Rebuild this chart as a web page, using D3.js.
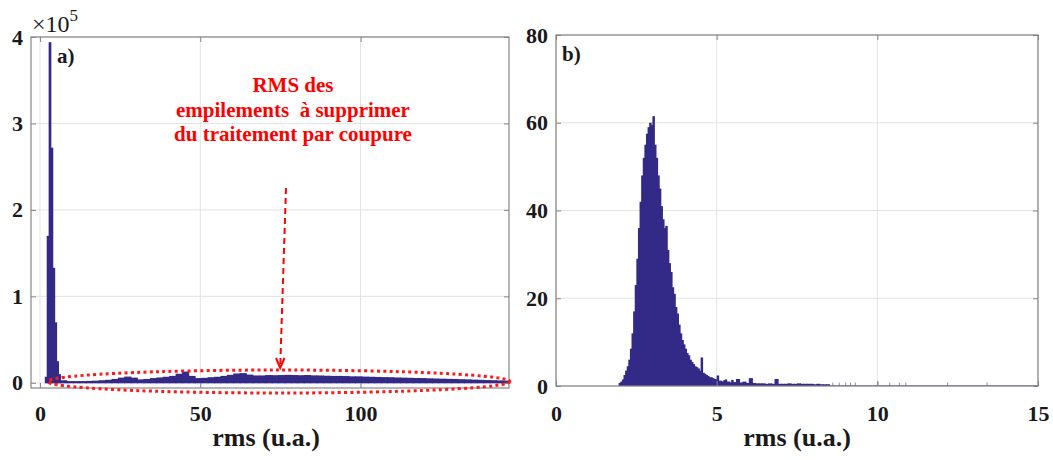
<!DOCTYPE html>
<html><head><meta charset="utf-8">
<script src="https://cdn.jsdelivr.net/npm/d3@7"></script>
<style>
body{margin:0;background:#fff;}
svg{display:block;font-family:"Liberation Serif","Times New Roman",serif;}
</style></head><body>
<svg id="c" width="1053" height="460"></svg>
<script>
// ---------- DATA ----------
// Panel a: counts (x1e5). Peak bins (width 0.6 from 1.5), tail bins (width 2 from 6.3)
const aPeakStart = 1.5, aPeakWidth = 0.6;
const aPeakValues = [0.07, 1.70, 3.94, 2.72, 1.33, 0.70, 0.25, 0.10];
const aTailStart = 6.3, aTailWidth = 2;
const aTailValues = [0.03,0.02,0.02,0.02,0.022,0.025,0.03,0.035,0.045,0.06,
  0.072,0.06,0.04,0.045,0.055,0.062,0.07,0.08,0.105,0.13,
  0.08,0.055,0.058,0.065,0.07,0.08,0.092,0.108,0.112,0.095,
  0.085,0.085,0.09,0.088,0.09,0.092,0.09,0.088,0.09,0.086,
  0.085,0.082,0.08,0.08,0.078,0.075,0.075,0.072,0.07,0.068,
  0.066,0.065,0.062,0.06,0.058,0.056,0.055,0.052,0.05,0.048,
  0.046,0.045,0.042,0.04,0.037,0.035,0.032,0.03,0.028,0.026];
const aXTicks = [0, 50, 100];
const aYTicks = [0, 1, 2, 3, 4];

// Panel b: counts, main bins (width 0.05 from 1.95), tail bins (width 0.1 from 5.5), lone bars
const bMainStart = 1.95, bMainWidth = 0.05;
const bMainValues = [0.7,1,1.5,2.5,3.5,4.5,6,8.5,12,17,
  23,29,36,42,48,52,55,57.5,59,60,
  59.5,61.5,55,52,48,45,41,38,36,36.5,
  31,28,26,22.5,21,18,16.5,14,12,10.5,
  9.5,8.5,7.5,7,6,5.5,5,4.5,4.3,4,
  3.5,6.5,3,2.8,2.5,2.3,2,2,1.8,1.6,
  1.5,2.4,1.2,1.2,1,1.3,1.5,1,1,0.8,1.4];
const bTailStart = 5.5, bTailWidth = 0.1;
const bTailValues = [0.9,1.6,0.8,1.0,0.7,1.8,0.7,0.6,0.6,0.6,
  0.5,0.6,0.5,1.6,0.5,0.5,0.5,0.6,0.5,0.5,
  0.6,0.5,0.5,0.5,0.5,0.4,0.5,0.4,0.4,0.4];
const bLoneX = [8.6, 8.8, 9.0, 9.15, 9.3, 10.0, 10.37, 10.67, 10.87, 12.17, 13.4];
const bLoneValues = [0.8,0.8,0.8,0.8,0.8,0.9,0.8,0.8,0.8,0.8,0.8];
const bLoneWidth = 0.03;
const bXTicks = [0, 5, 10, 15];
const bYTicks = [0, 20, 40, 60, 80];

const annotationLines = ["RMS des", "empilements\u00A0 à supprimer", "du traitement par coupure"];

// ---------- DRAW ----------
const svg = d3.select("#c");
svg.append("rect").attr("width",1053).attr("height",460).attr("fill","#fff");
const barColor = "#332a87";
const gridColor = "#e3e3e3";
const boxColor = "#858585";

function panel(opt){
  const {x, y, xTicks, yTicks, yFmt} = opt;
  const [x0,x1] = x.range(), [y0,y1] = y.range();
  const g = svg.append("g");
  g.append("g").selectAll("line").data(xTicks).join("line")
    .attr("x1",d=>x(d)).attr("x2",d=>x(d)).attr("y1",y0).attr("y2",y1)
    .attr("stroke",gridColor).attr("stroke-width",1);
  g.append("g").selectAll("line").data(yTicks).join("line")
    .attr("y1",d=>y(d)).attr("y2",d=>y(d)).attr("x1",x0).attr("x2",x1)
    .attr("stroke",gridColor).attr("stroke-width",1);
  const marks = g.append("g");
  const ax = g.append("g");
  ax.append("g").attr("transform",`translate(0,${y0})`)
    .call(d3.axisBottom(x).tickValues(xTicks).tickSizeInner(-5).tickSizeOuter(0).tickPadding(opt.xPad));
  ax.append("g").attr("transform",`translate(${x0},0)`)
    .call(d3.axisLeft(y).tickValues(yTicks).tickSizeInner(-5).tickSizeOuter(0).tickPadding(8).tickFormat(yFmt));
  ax.append("g").attr("transform",`translate(0,${y1})`)
    .call(d3.axisTop(x).tickValues(xTicks).tickSizeInner(-5).tickSizeOuter(0).tickFormat(""));
  ax.append("g").attr("transform",`translate(${x1},0)`)
    .call(d3.axisRight(y).tickValues(yTicks).tickSizeInner(-5).tickSizeOuter(0).tickFormat(""));
  ax.selectAll(".domain").remove();
  ax.selectAll(".tick line").attr("stroke",boxColor);
  ax.selectAll(".tick text").attr("font-family","Liberation Serif, serif")
    .attr("font-weight","bold").attr("font-size",22).attr("fill","#1a1a1a");
  g.append("rect").attr("x",x0).attr("y",y1).attr("width",x1-x0).attr("height",y0-y1)
    .attr("fill","none").attr("stroke",boxColor).attr("stroke-width",1.2);
  g.append("text").attr("x",(x0+x1)/2 + (opt.labelShift||0)).attr("y",446)
    .attr("text-anchor","middle").attr("font-weight","bold").attr("font-size",26)
    .attr("fill","#1a1a1a").text("rms (u.a.)");
  g.append("text").attr("x",x0+opt.tagDx).attr("y",y1+26)
    .attr("font-weight","bold").attr("font-size",21).attr("fill","#1a1a1a").text(opt.tag);
  return marks;
}

// Panel a
const xa = d3.scaleLinear([-2.8, 146.3], [31, 509]);
const ya = d3.scaleLinear([-0.06, 4.0], [388, 37]);
const ma = panel({x:xa, y:ya, xTicks:aXTicks, yTicks:aYTicks, yFmt:d3.format("d"), xPad:17, tag:"a)", tagDx:26, labelShift:-4});
const aBars = aPeakValues.map((v,i)=>({x0:aPeakStart+i*aPeakWidth, x1:aPeakStart+(i+1)*aPeakWidth, v}))
  .concat(aTailValues.map((v,i)=>({x0:aTailStart+i*aTailWidth, x1:aTailStart+(i+1)*aTailWidth, v})));
ma.selectAll("rect").data(aBars).join("rect")
  .attr("x",d=>xa(d.x0)).attr("width",d=>xa(d.x1)-xa(d.x0)+0.8)
  .attr("y",d=>ya(d.v)).attr("height",d=>ya(0)-ya(d.v)+0.5)
  .attr("fill",barColor);

// x10^5
const mult = svg.append("text").attr("x",32).attr("y",32).attr("font-size",24).attr("fill","#1a1a1a");
mult.append("tspan").text("×10");
mult.append("tspan").attr("dy",-11).attr("font-size",17).text("5");

// annotation
const ann = svg.append("g").attr("fill","#ff0000").attr("font-weight","bold").attr("font-size",21).attr("text-anchor","middle");
annotationLines.forEach((t,i)=>{
  ann.append("text").attr("x",293).attr("y",92 + i*24.5).text(t);
});
svg.append("line").attr("x1",286).attr("y1",188).attr("x2",280.3).attr("y2",364)
  .attr("stroke","#ff0000").attr("stroke-width",2).attr("stroke-dasharray","6,4");
svg.append("path").attr("d","M276,358 L280.2,368 L284.5,358")
  .attr("fill","none").attr("stroke","#ff0000").attr("stroke-width",2);
svg.append("ellipse").attr("cx",279).attr("cy",381.5).attr("rx",231).attr("ry",11.5)
  .attr("fill","none").attr("stroke","#ff1a1a").attr("stroke-width",3).attr("stroke-dasharray","3,3.3");

// Panel b
const xb = d3.scaleLinear([0, 15], [556, 1038]);
const yb = d3.scaleLinear([0, 80], [386, 35]);
const mb = panel({x:xb, y:yb, xTicks:bXTicks, yTicks:bYTicks, yFmt:d3.format("d"), xPad:19, tag:"b)", tagDx:6});
mb.append("line").attr("x1",xb(bMainStart)).attr("x2",xb(15)).attr("y1",yb(0)-0.5).attr("y2",yb(0)-0.5)
  .attr("stroke",barColor).attr("stroke-opacity",0.5).attr("stroke-width",1);
const bBars = bMainValues.map((v,i)=>({x0:bMainStart+i*bMainWidth, x1:bMainStart+(i+1)*bMainWidth, v}))
  .concat(bTailValues.map((v,i)=>({x0:bTailStart+i*bTailWidth, x1:bTailStart+(i+1)*bTailWidth, v})));
mb.append("g").selectAll("rect").data(bBars).join("rect")
  .attr("x",d=>xb(d.x0)).attr("width",d=>xb(d.x1)-xb(d.x0)+0.9)
  .attr("y",d=>yb(d.v)).attr("height",d=>yb(0)-yb(d.v))
  .attr("fill",barColor);
mb.append("g").selectAll("rect").data(bLoneX.map((x,i)=>({x, v:bLoneValues[i]}))).join("rect")
  .attr("x",d=>xb(d.x)).attr("width",d=>Math.max(1, xb(d.x+bLoneWidth)-xb(d.x)))
  .attr("y",d=>yb(d.v)).attr("height",d=>yb(0)-yb(d.v))
  .attr("fill",barColor).attr("fill-opacity",0.55);
</script>
</body></html>
